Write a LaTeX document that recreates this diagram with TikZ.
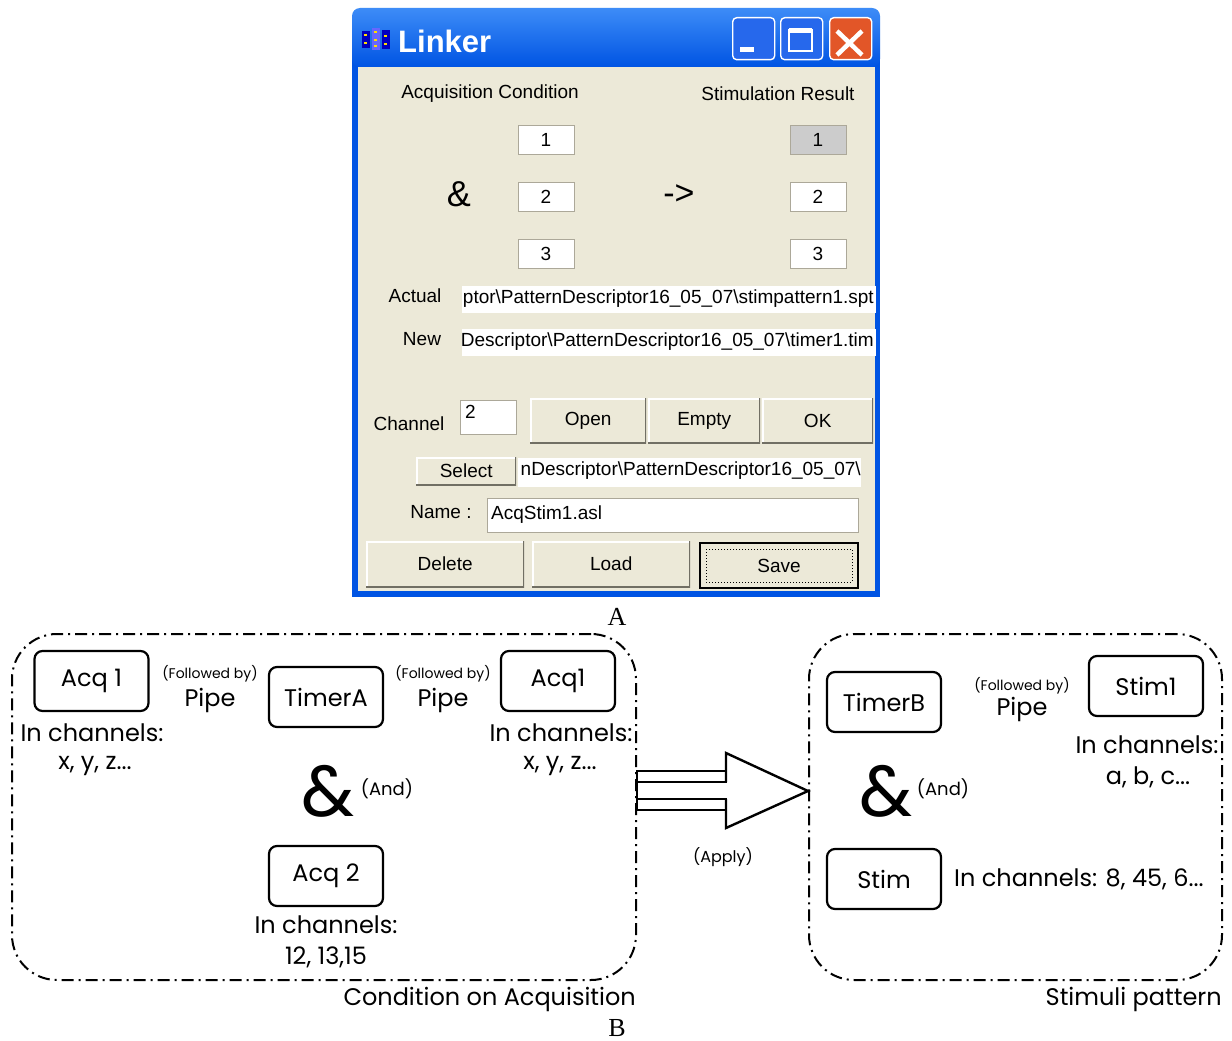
\documentclass[tikz,border=0pt]{standalone}
\usepackage{fontspec}
\setmainfont{Liberation Serif}
\newfontfamily\winfont{Liberation Sans}
\newfontfamily\dgfont{Poppins}
\usetikzlibrary{calc}
\definecolor{xpblue}{RGB}{0,84,227}
\definecolor{xplight}{RGB}{61,140,247}
\definecolor{xpmid}{RGB}{38,104,236}
\definecolor{xpbeige}{RGB}{236,233,216}
\definecolor{xpshadow}{RGB}{172,168,153}
\definecolor{xpdark}{RGB}{113,111,100}
\definecolor{xpred}{RGB}{226,86,40}
\definecolor{xpgray}{RGB}{204,204,204}
\tikzset{
  wfont/.style={font=\winfont\fontsize{19}{21}\selectfont},
  wtext/.style={wfont, inner sep=0pt},
  fieldbox/.style={fill=white, draw=xpshadow, line width=1pt, inner sep=0pt, anchor=north west},
  numbox/.style={fill=white, draw=xpshadow, line width=1pt, minimum width=56pt, minimum height=29pt, inner sep=0pt, wfont},
  xpbutton/.style={fill=xpbeige, inner sep=0pt, anchor=north west, wfont,
    path picture={
      \draw[white, line width=3pt] (path picture bounding box.south west) -- (path picture bounding box.north west) -- (path picture bounding box.north east);
      \draw[xpdark, line width=3pt] (path picture bounding box.south west) -- (path picture bounding box.south east) -- (path picture bounding box.north east);}},
  tbtn/.style={draw=white, line width=1.4pt, rounded corners=4pt, minimum width=42pt, minimum height=42pt, inner sep=0pt, anchor=north west},
  dbox/.style={draw, line width=2.2pt, rounded corners=8pt, minimum width=114pt, minimum height=60pt, inner sep=0pt, font=\dgfont\fontsize{24}{26}\selectfont},
  dtext/.style={font=\dgfont\fontsize{24}{26}\selectfont, inner sep=0pt},
  dsmall/.style={font=\dgfont\fontsize{14}{16}\selectfont, inner sep=0pt},
  dmid/.style={font=\dgfont\fontsize{18}{20}\selectfont, inner sep=0pt},
  region/.style={draw, line width=2pt, rounded corners=45pt, dash pattern=on 12pt off 5pt on 2pt off 5pt, inner sep=0pt},
  ampbig/.style={font=\dgfont\fontsize{72}{72}\selectfont, inner sep=0pt},
  serifl/.style={font=\fontsize{26}{28}\selectfont, inner sep=0pt},
  arrowline/.style={line width=2.4pt, line join=miter},
}
\begin{document}
\begin{tikzpicture}[x=1pt,y=-1pt]
\useasboundingbox (0,0) rectangle (1232,1041);
\fill[white] (0,0) rectangle (1232,1041);

% ---------------- window A ----------------
\fill[xpblue] (352,30) rectangle (880,597);
\shade[top color=xplight, bottom color=xpblue, rounded corners=8pt] (352,8) rectangle (880,67);
\fill[xpbeige] (358,67) rectangle (875,591);

% icon
\fill[blue!75!black] (362,31) rectangle (370,48);
\fill[blue!60] (372,28) rectangle (380,50);
\fill[blue!75!black] (382,30) rectangle (390,49);
\foreach \px/\py in {364/34,364/42,374/31,374/39,374/45,384/35,384/43}{
  \fill[yellow!80!orange] (\px,\py) rectangle ++(2.5,2.5);}
\node[font=\winfont\bfseries\fontsize{31}{33}\selectfont, text=white, inner sep=0pt, anchor=west] (title) at (398,41) {Linker};

% title buttons
\node[tbtn, fill=xpmid] (minb) at (732,17) {};
\fill[white] (740,47) rectangle (754,52);
\node[tbtn, fill=xpmid] (maxb) at (780,17) {};
\draw[white, line width=1.6pt] (789,30) rectangle (812,51);
\fill[white] (789,28) rectangle (812,33);
\node[tbtn, fill=xpred] (closeb) at (829,17) {};
\draw[white, line width=4.5pt] (837,31) -- (862,55) (862,31) -- (837,55);

% header labels
\node[wtext] (acqc) at (490,94) {Acquisition Condition};
\node[wtext] (stimr) at (778,94) {Stimulation Result};

% number boxes
\node[numbox] (l1) at (546,140) {1};
\node[numbox] (l2) at (546,197) {2};
\node[numbox] (l3) at (546,254) {3};
\node[numbox, fill=xpgray] (r1) at (818,140) {1};
\node[numbox] (r2) at (818,197) {2};
\node[numbox] (r3) at (818,254) {3};
\node[font=\winfont\fontsize{36}{38}\selectfont, inner sep=0pt] (wamp) at (459,194) {\&};
\node[font=\winfont\fontsize{34}{36}\selectfont, inner sep=0pt] (warr) at (679,195) {->};

% path fields
\node[wtext] (actl) at (415,296) {Actual};
\node[fieldbox, draw=none, minimum width=414pt, minimum height=27pt] (actf) at (461,285) {};
\begin{scope}
\clip (461,285) rectangle (875,312);
\node[wtext, anchor=east] (actt) at (874,299) {ptor\textbackslash PatternDescriptor16\_05\_07\textbackslash stimpattern1.spt};
\end{scope}
\node[wtext] (newl) at (422,339) {New};
\node[fieldbox, draw=none, minimum width=414pt, minimum height=27pt] (newf) at (461,328) {};
\begin{scope}
\clip (461,328) rectangle (875,355);
\node[wtext, anchor=east] (newt) at (874,342) {Descriptor\textbackslash PatternDescriptor16\_05\_07\textbackslash timer1.tim};
\end{scope}

% channel row
\node[wtext] (chl) at (409,424) {Channel};
\node[fieldbox, minimum width=56pt, minimum height=34pt] (chf) at (460,400) {};
\node[wtext, anchor=north west] (cht) at (465,405) {2};
\node[xpbutton, minimum width=116pt, minimum height=45pt] (openb) at (530,398) {Open};
\node[xpbutton, minimum width=112pt, minimum height=45pt] (emptyb) at (648,398) {Empty};
\node[xpbutton, minimum width=111pt, minimum height=45pt] (okb) at (762,398) {OK};

% select row
\node[xpbutton, minimum width=100pt, minimum height=28pt] (selb) at (416,457) {Select};
\node[fieldbox, draw=none, minimum width=343pt, minimum height=29pt] (self) at (517,457) {};
\begin{scope}
\clip (518,457) rectangle (860,486);
\node[wtext, anchor=east] (selt) at (861,471) {nDescriptor\textbackslash PatternDescriptor16\_05\_07\textbackslash};
\end{scope}

% name row
\node[wtext] (namel) at (441,512) {Name :};
\node[fieldbox, minimum width=371pt, minimum height=34pt] (namef) at (487,498) {};
\node[wtext, anchor=west] (namet) at (491,515) {AcqStim1.asl};

% bottom buttons
\node[xpbutton, minimum width=158pt, minimum height=46pt] (delb) at (366,541) {Delete};
\node[xpbutton, minimum width=158pt, minimum height=46pt] (loadb) at (532,541) {Load};
\node[fill=xpbeige, draw=black, line width=2pt, inner sep=0pt, anchor=north west, wfont, minimum width=158pt, minimum height=45pt] (saveb) at (699,542) {Save};
\draw[line width=1pt, dotted] ($(saveb.north west)+(7,7)$) rectangle ($(saveb.south east)+(-7,-7)$);

\node[serifl] (labA) at (617,617) {A};

% ---------------- diagram B ----------------
\node[region, minimum width=624pt, minimum height=346pt] (leftreg) at (324,807) {};
\node[region, minimum width=413pt, minimum height=346pt] (rightreg) at (1015.5,807) {};

% left region content
\node[dbox] (acq1) at (91.5,681) {Acq 1};
\node[dsmall] (fb1) at (210,674) {(Followed by)};
\node[dtext] (pipe1) at (210,700) {Pipe};
\node[dbox] (timerA) at (326,697) {TimerA};
\node[dsmall] (fb2) at (443,674) {(Followed by)};
\node[dtext] (pipe2) at (443,700) {Pipe};
\node[dbox] (acq1b) at (558,681) {Acq1};
\node[dtext] (inch1) at (92,733) {In channels:};
\node[dtext] (xyz1) at (95,766) {x, y, z...};
\node[dtext] (inch2) at (561,733) {In channels:};
\node[dtext] (xyz2) at (560,766) {x, y, z...};
\node[ampbig] (amp1) at (328,791) {\&};
\node[dmid] (and1) at (387,789) {(And)};
\node[dbox] (acq2) at (326,876) {Acq 2};
\node[dtext] (inch3) at (326,925) {In channels:};
\node[dtext] (ch3) at (326,957) {12, 13,15};
\node[dtext, anchor=east] (condacq) at (636,999) {Condition on Acquisition};

% right region content
\node[dbox] (timerB) at (884,702) {TimerB};
\node[dsmall] (fb3) at (1022,686) {(Followed by)};
\node[dtext] (pipe3) at (1022,709) {Pipe};
\node[dbox] (stim1) at (1146,686) {Stim1};
\node[dtext] (inch4) at (1147,745) {In channels:};
\node[dtext] (abc) at (1148,777) {a, b, c...};
\node[ampbig] (amp2) at (886,791) {\&};
\node[dmid] (and2) at (943,789) {(And)};
\node[dbox] (stim) at (884,879) {Stim};
\node[dtext, anchor=west] (inch5) at (954,879) {In channels: 8, 45, 6...};
\node[dtext, anchor=east] (stimpat) at (1222,999) {Stimuli pattern};

% apply arrow
\coordinate (ay) at (0,791);
\coordinate (ab) at (leftreg.east |- ay);
\coordinate (tip) at (rightreg.west |- ay);
\draw[arrowline] ($(ab)+(0,-20)$) -- ($(ab)+(0,19)$);
\draw[arrowline] ($(ab)+(0,-20)$) rectangle ($(ab)+(89,-9)$);
\draw[arrowline] ($(ab)+(0,8)$) rectangle ($(ab)+(89,19)$);
\draw[arrowline] ($(ab)+(89,-9)$) -- ($(ab)+(89,-38)$) -- (tip) -- ($(ab)+(89,37)$) -- ($(ab)+(89,8)$);
\node[dmid, font=\dgfont\fontsize{16}{18}\selectfont] (apply) at (723,857) {(Apply)};

\node[serifl] (labB) at (617,1028) {B};
\end{tikzpicture}
\end{document}
